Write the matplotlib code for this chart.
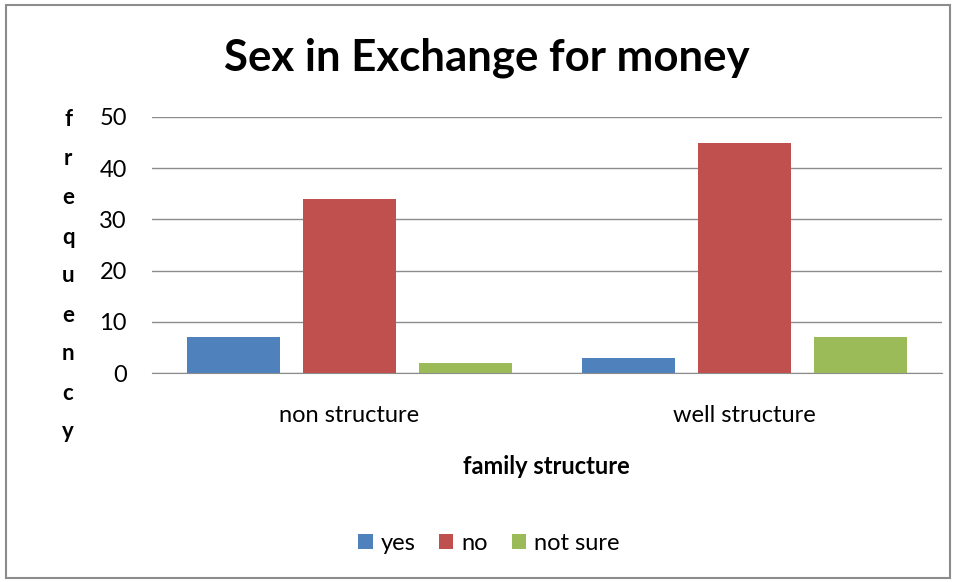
import matplotlib.pyplot as plt
import matplotlib.patches as patches
import numpy as np

plt.rcParams['font.family'] = ['Lato', 'DejaVu Sans']

categories = ["non structure", "well structure"]
series_names = ["yes", "no", "not sure"]
yes_vals = [7, 3]
no_vals = [34, 45]
not_sure_vals = [2, 7]
colors = ["#4f81bd", "#c0504d", "#9bbb59"]
ylabel_letters = list("frequency")

fig = plt.figure(figsize=(9.59, 5.82), dpi=100)
ax = fig.add_axes([0.1585, 0.359, 0.8235, 0.44])

x = np.arange(len(categories))
width = 0.235
step = 0.294
for i, (vals, name) in enumerate(zip([yes_vals, no_vals, not_sure_vals], series_names)):
    ax.bar(x + (i - 1) * step, vals, width, color=colors[i], label=name, zorder=3)

ax.set_xlim(-0.5, 1.5)
ax.set_ylim(0, 50)
ax.set_yticks(range(0, 51, 10))
ax.set_xticks(x)
ax.set_xticklabels(categories, fontsize=17)
ax.tick_params(axis='y', labelsize=17, length=0, pad=18)
ax.tick_params(axis='x', length=0, pad=23)
ax.grid(axis='y', color='#8c8c8c', linewidth=1, zorder=0)
for s in ['top', 'right', 'left']:
    ax.spines[s].set_visible(False)
ax.spines['bottom'].set_color('#8c8c8c')

ax.set_xlabel("family structure", fontsize=17, fontweight='bold', labelpad=21)

fig.text(0.508, 0.9, "Sex in Exchange for money", ha='center', va='center',
         fontsize=31.5, fontweight='bold')

for k, ch in enumerate(ylabel_letters):
    fig.text(0.071, 1 - (120 + k * 39) / 582, ch, ha='center', va='center',
             fontsize=16, fontweight='bold')

fig.legend(loc='center', bbox_to_anchor=(0.51, 0.067), ncol=3, frameon=False,
           fontsize=17, handlelength=0.6, handleheight=0.6, handletextpad=0.35,
           columnspacing=1.0)

fig.patches.append(patches.Rectangle((0.006, 0.007), 0.985, 0.985, transform=fig.transFigure,
                                     fill=False, edgecolor='#8c8c8c', linewidth=1.5))

fig.savefig("out.png", dpi=100)
